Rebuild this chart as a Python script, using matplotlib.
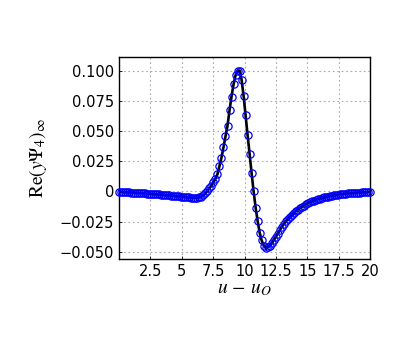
import numpy as np
import matplotlib
matplotlib.use("Agg")
import matplotlib.pyplot as plt

# sample positions u - u0 (uniform grid, step 0.16)
u = np.linspace(0, 20, 126)

# Re(y Psi4)
re_psi4 = [
    -0.0003, -0.0004, -0.0005, -0.0005, -0.0006, -0.0008, -0.0009, -0.0010,
    -0.0011, -0.0012, -0.0013, -0.0014, -0.0015, -0.0016, -0.0018, -0.0019,
    -0.0020, -0.0021, -0.0023, -0.0024, -0.0025, -0.0027, -0.0028, -0.0030,
    -0.0031, -0.0033, -0.0034, -0.0036, -0.0038, -0.0039, -0.0041, -0.0043,
    -0.0044, -0.0046, -0.0048, -0.0049, -0.0051, -0.0052, -0.0052, -0.0052,
    -0.0049, -0.0043, -0.0032, -0.0016, 0.0005, 0.0025, 0.0048, 0.0075,
    0.0105, 0.0143, 0.0210, 0.0280, 0.0365, 0.0455, 0.0545, 0.0670,
    0.0785, 0.0885, 0.0960, 0.0998, 0.1000, 0.0925, 0.0790, 0.0630,
    0.0465, 0.0310, 0.0150, 0.0000, -0.0135, -0.0245, -0.0340, -0.0405,
    -0.0448, -0.0465, -0.0463, -0.0450, -0.0430, -0.0405, -0.0378, -0.0350,
    -0.0320, -0.0295, -0.0270, -0.0248, -0.0228, -0.0210, -0.0194, -0.0178,
    -0.0164, -0.0150, -0.0139, -0.0127, -0.0117, -0.0107, -0.0098, -0.0090,
    -0.0083, -0.0076, -0.0070, -0.0064, -0.0059, -0.0054, -0.0050, -0.0046,
    -0.0042, -0.0038, -0.0035, -0.0032, -0.0029, -0.0027, -0.0024, -0.0022,
    -0.0020, -0.0018, -0.0017, -0.0015, -0.0014, -0.0012, -0.0011, -0.0010,
    -0.0009, -0.0008, -0.0007, -0.0006, -0.0005, -0.0004,
]

xticks = [2.5, 5, 7.5, 10, 12.5, 15, 17.5, 20]
xtick_labels = ["2.5", "5", "7.5", "10", "12.5", "15", "17.5", "20"]
yticks = [-0.05, -0.025, 0, 0.025, 0.05, 0.075, 0.1]
ytick_labels = ["\u22120.050", "\u22120.025", "0", "0.025", "0.050", "0.075", "0.100"]

plt.rcParams["mathtext.fontset"] = "stix"

fig = plt.figure(figsize=(4.09, 3.54), dpi=100)
ax = fig.add_axes([0.291, 0.268, 0.614, 0.572])

ax.plot(u, re_psi4, color="black", linewidth=1.9, zorder=3)
ax.plot(u, re_psi4, linestyle="none", marker="o", markersize=5.2,
        markerfacecolor="none", markeredgecolor="#0000ff", markeredgewidth=0.9,
        zorder=4, clip_on=False)

ax.set_xlim(0, 20)
ax.set_ylim(-0.056, 0.1115)
ax.set_xticks(xticks)
ax.set_xticklabels(xtick_labels)
ax.set_yticks(yticks)
ax.set_yticklabels(ytick_labels)
ax.tick_params(direction="in", length=2, labelsize=10.5, width=0.6)

ax.grid(True, color="#a8a8a8", linestyle=(0, (1.5, 2.5)), linewidth=0.8)
for s in ax.spines.values():
    s.set_linewidth(1.0)

ax.set_xlabel(r"$u\,-\,u_{O}$", fontsize=14, labelpad=0)
ax.set_ylabel(r"$\mathrm{Re}\left(y\Psi_4\right)_\infty$", fontsize=14, labelpad=8)

fig.savefig("out.png", dpi=100)
